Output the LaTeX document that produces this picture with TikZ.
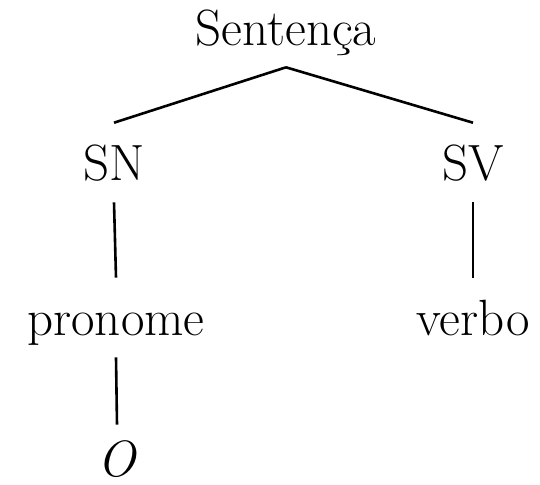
\documentclass[tikz,border=0pt]{standalone}

\begin{document}
\begin{tikzpicture}[x=0.5pt, y=-0.5pt, line width=1.3pt,
  word/.style={anchor=base, inner sep=0pt, text height=28pt, text depth=10.5pt,
    font=\fontsize{25.5}{30}\selectfont}]

\useasboundingbox (0,0) rectangle (540,484);

% Nodes
\node[word] (sent) at (286,45)  {Sentença};
\node[word] (sn)   at (114,180) {SN};
\node[word] (sv)   at (473,180) {SV};
\node[word] (pron) at (116,335) {pronome};
\node[word] (verb) at (473,335) {verbo};
\node[word, text height=25pt, text depth=0pt] (o) at (117,476) {\textit{O}};

% Branches
\draw (sent.south) -- (sn.north);
\draw (sent.south) -- (sv.north);
\draw (sn.south) -- (pron.north);
\draw (sv.south) -- (verb.north);
\draw (pron.south) -- (o.north);

\end{tikzpicture}
\end{document}
